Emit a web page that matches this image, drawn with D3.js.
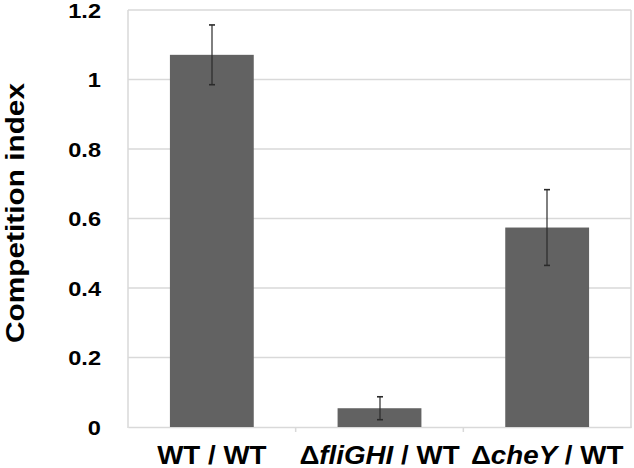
<!DOCTYPE html>
<html>
<head>
<meta charset="utf-8">
<script src="https://cdn.jsdelivr.net/npm/d3@7"></script>
<style>
  html, body { margin: 0; padding: 0; background: #fff; }
  svg { display: block; }
  text { font-family: "Liberation Sans", Arial, sans-serif; font-weight: bold; fill: #000; }
</style>
</head>
<body>
<svg id="chart" width="634" height="468"></svg>
<script>
// ---- data ----
const categories = ["WT / WT", "ΔfliGHI / WT", "ΔcheY / WT"];
const labelParts = [
  [{t: "WT / WT", i: false}],
  [{t: "Δ", i: false}, {t: "fliGHI", i: true}, {t: " / WT", i: false}],
  [{t: "Δ", i: false}, {t: "cheY", i: true}, {t: " / WT", i: false}]
];
const values = [1.071, 0.054, 0.574];
const errors = [0.086, 0.033, 0.109];
const yTicks = [0, 0.2, 0.4, 0.6, 0.8, 1, 1.2];
const yTitle = "Competition index";

(function () {
// ---- layout ----
const svg = d3.select("#chart");
const pLeft = 128, pRight = 631, pTop = 10, pBottom = 427;

const x = d3.scaleBand().domain(categories).range([pLeft, pRight])
  .paddingInner(0.5).paddingOuter(0.25);
const y = d3.scaleLinear().domain([0, 1.2]).range([pBottom, pTop]);

const gridColor = "#d9d9d9";

// gridlines
svg.append("g").selectAll("line").data(yTicks.filter(d => d > 0)).join("line")
  .attr("x1", pLeft).attr("x2", pRight)
  .attr("y1", d => y(d)).attr("y2", d => y(d))
  .attr("stroke", gridColor).attr("stroke-width", 1.5);

// left & right vertical lines
svg.append("line").attr("x1", pLeft).attr("x2", pLeft).attr("y1", pTop).attr("y2", pBottom + 1)
  .attr("stroke", gridColor).attr("stroke-width", 1.5);
svg.append("line").attr("x1", pRight).attr("x2", pRight).attr("y1", pTop).attr("y2", pBottom + 1)
  .attr("stroke", gridColor).attr("stroke-width", 1.5);

// bottom axis
const boundaries = [1, 2].map(i => pLeft + (pRight - pLeft) / 3 * i);
const xAxis = d3.axisBottom(x).tickSize(0).tickFormat("");
const gx = svg.append("g").attr("transform", `translate(0,${pBottom})`).call(xAxis);
gx.select(".domain").attr("stroke", gridColor).attr("stroke-width", 1.5);
gx.append("g").selectAll("line").data(boundaries).join("line")
  .attr("x1", d => d).attr("x2", d => d).attr("y1", 0).attr("y2", 5)
  .attr("stroke", gridColor).attr("stroke-width", 1.5);

// y axis tick labels
const yAxis = d3.axisLeft(y).tickValues(yTicks).tickSize(0).tickPadding(0)
  .tickFormat(d => d3.format("")(d));
const gy = svg.append("g").attr("transform", `translate(101,0)`).call(yAxis);
gy.select(".domain").remove();
gy.selectAll(".tick text")
  .attr("font-family", '"Liberation Sans", Arial, sans-serif')
  .attr("font-weight", "bold")
  .attr("font-size", 20)
  .attr("fill", "#000")
  .attr("x", 0).attr("dy", "0.36em")
  .attr("transform", "scale(1.18,1)");

// bars
svg.append("g").selectAll("rect").data(categories).join("rect")
  .attr("x", d => x(d)).attr("width", x.bandwidth())
  .attr("y", (d, i) => y(values[i]))
  .attr("height", (d, i) => y(0) - y(values[i]))
  .attr("fill", "#626262");

// error bars
const cx = d => Math.round(x(d) + x.bandwidth() / 2);
const eb = svg.append("g").selectAll("g").data(categories).join("g");
eb.append("line")
  .attr("x1", cx).attr("x2", cx)
  .attr("y1", (d, i) => y(values[i] + errors[i])).attr("y2", (d, i) => y(values[i] - errors[i]))
  .attr("stroke", "#2a2a2a").attr("stroke-width", 1.2);
[1, -1].forEach(s => {
  eb.append("line")
    .attr("x1", d => cx(d) - 3).attr("x2", d => cx(d) + 3)
    .attr("y1", (d, i) => y(values[i] + s * errors[i])).attr("y2", (d, i) => y(values[i] + s * errors[i]))
    .attr("stroke", "#2a2a2a").attr("stroke-width", 1.6);
});

// category labels
const lab = svg.append("g").selectAll("g").data(categories).join("g")
  .attr("transform", d => `translate(${x(d) + x.bandwidth() / 2},464) scale(1.11,1)`);
lab.append("text").attr("text-anchor", "middle").attr("font-size", 25)
  .each(function(d, i) {
    const t = d3.select(this);
    labelParts[i].forEach(p => {
      t.append("tspan").text(p.t).attr("font-style", p.i ? "italic" : "normal");
    });
  });

// y title
svg.append("text")
  .attr("transform", `translate(24,213) rotate(-90)`)
  .attr("text-anchor", "middle")
  .attr("font-size", 26)
  .attr("textLength", 260).attr("lengthAdjust", "spacingAndGlyphs")
  .text(yTitle);
})();
</script>
</body>
</html>
